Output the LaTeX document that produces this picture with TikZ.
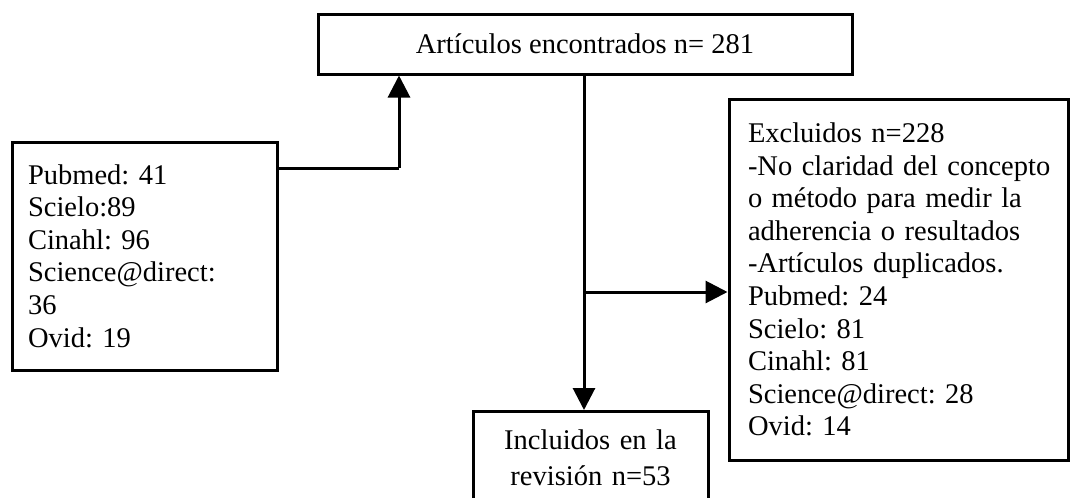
\documentclass[tikz,border=0pt]{standalone}
\usepackage{fontspec}
\setmainfont{Liberation Serif}
\usetikzlibrary{arrows.meta}
\frenchspacing
\hyphenpenalty=10000

\tikzset{
  box/.style={draw, line width=3pt, inner xsep=18pt, inner ysep=0pt},
  arrow/.style={line width=3pt, -{Triangle[length=22pt,width=22pt]}},
  line/.style={line width=3pt}
}

\begin{document}
\begin{tikzpicture}[x=1pt,y=-1pt,font=\fontsize{28.5}{32.6}\selectfont]
  \clip (0,0) rectangle (1074,498);

  % boxes
  \node [box, minimum width=534pt, minimum height=60pt] (found) at (585,44) {Art\'iculos encontrados n= 281};
  \node [box, inner xsep=16pt, minimum width=265pt, minimum height=228pt, text width=233pt, align=left] (sources) at (144.5,256)
    {Pubmed: 41\\Scielo:89\\Cinahl: 96\\Science@direct:\\36\\Ovid: 19};
  \node [box, inner xsep=19pt, minimum width=339pt, minimum height=361pt, text width=301pt, align=left] (excluded) at (898.5,279.5)
    {Excluidos n=228\\\mbox{-No claridad del concepto}\\o m\'etodo para medir la\\adherencia o resultados\\-Art\'iculos duplicados.\\Pubmed: 24\\Scielo: 81\\Cinahl: 81\\Science@direct: 28\\Ovid: 14};
  \node [box, inner ysep=18pt, minimum width=235pt, text width=199pt, align=center, anchor=north,
    font=\fontsize{28.5}{36}\selectfont] (included) at (590.5,410)
    {Incluidos en la\\revisi\'on n=53};

  % connectors
  \coordinate (bend) at (399,168);
  \coordinate (split) at (584,292);
  \draw [line] (sources.east |- bend) -- (bend);
  \draw [arrow] (bend) -- (found.south -| bend);
  \draw [arrow] (found.south -| split) -- (included.north -| split);
  \draw [arrow] (split) -- (split -| excluded.west);

\end{tikzpicture}
\end{document}
